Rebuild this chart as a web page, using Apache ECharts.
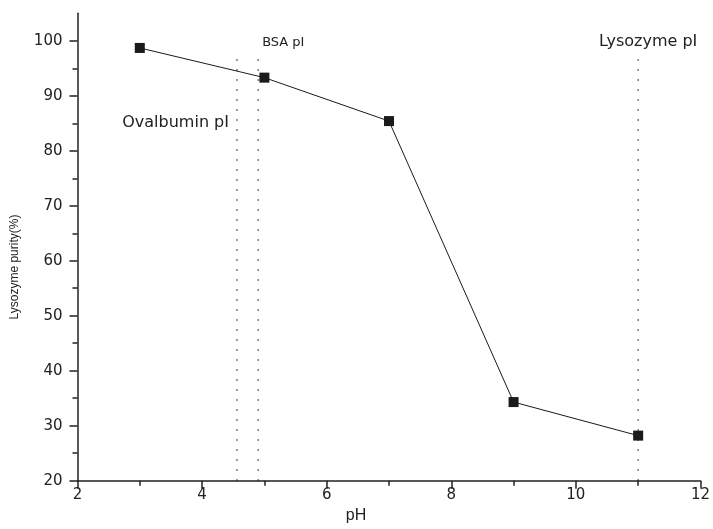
<!DOCTYPE html>
<html>
<head>
<meta charset="utf-8">
<script src="https://cdn.jsdelivr.net/npm/echarts@6/dist/echarts.min.js"></script>
<style>
html,body{margin:0;padding:0;background:#fff;}
#chart{width:713px;height:529px;}
</style>
</head>
<body>
<div id="chart"></div>
<script>
// Data
const phValues = [3, 5, 7, 9, 11];
const purityValues = [98.7, 93.3, 85.4, 34.3, 28.2];
const piNames = ['Ovalbumin pI', 'BSA pI', 'Lysozyme pI'];
const piValues = [4.56, 4.9, 11];
const piLineTop = 97.7;
const xMajorTicks = [2, 4, 6, 8, 10, 12];
const xMinorTicks = [3, 5, 7, 9, 11];
const yMajorTicks = [20, 30, 40, 50, 60, 70, 80, 90, 100];
const yMinorTicks = [25, 35, 45, 55, 65, 75, 85, 95];

const FONT = '"DejaVu Sans", sans-serif';
const AX = '#222';
const chart = echarts.init(document.getElementById('chart'), null, {renderer: 'canvas'});

const piSeries = piValues.map((v, i) => ({
  name: piNames[i],
  type: 'line',
  data: [[v, 20], [v, piLineTop]],
  symbol: 'none',
  silent: true,
  lineStyle: {color: '#222', width: 1.2, type: [1.5, 8.5]},
  z: 1
}));

chart.setOption({
  animation: false,
  grid: {left: 77.5, right: 10.5, top: 13.3, bottom: 48.3, containLabel: false},
  xAxis: [{
    type: 'value', min: 2, max: 12, interval: 2,
    position: 'bottom',
    name: 'pH', nameLocation: 'middle', nameGap: 26,
    nameTextStyle: {fontFamily: 'Liberation Sans, Arial, sans-serif', fontSize: 16, color: AX, padding: [0, 66, 0, 0]},
    axisLine: {lineStyle: {color: AX, width: 1.5}},
    axisTick: {inside: false, length: 8, customValues: xMajorTicks, lineStyle: {color: AX, width: 1.5}},
    axisLabel: {fontFamily: FONT, fontSize: 15, color: AX, margin: 7, customValues: xMajorTicks},
    splitLine: {show: false}
  }, {
    type: 'value', min: 2, max: 12, interval: 1,
    position: 'bottom', offset: 0,
    axisLine: {show: false},
    axisTick: {show: true, inside: false, length: 5, customValues: xMinorTicks, lineStyle: {color: AX, width: 1.5}},
    axisLabel: {show: false},
    splitLine: {show: false}
  }],
  yAxis: [{
    type: 'value', min: 20, max: 105, interval: 5,
    position: 'left',
    name: 'Lysozyme purity(%)', nameLocation: 'middle', nameGap: 57,
    nameTextStyle: {fontFamily: 'Liberation Sans, Arial, sans-serif', fontSize: 12, color: AX, padding: [0, 40, 0, 0]},
    axisLine: {show: true, lineStyle: {color: AX, width: 1.5}},
    axisTick: {show: true, inside: false, length: 8, customValues: yMajorTicks, lineStyle: {color: AX, width: 1.5}},
    axisLabel: {fontFamily: FONT, fontSize: 15, color: AX, margin: 15, customValues: yMajorTicks},
    splitLine: {show: false}
  }, {
    type: 'value', min: 20, max: 105, interval: 5,
    position: 'left', offset: 0,
    axisLine: {show: false},
    axisTick: {show: true, inside: false, length: 5, customValues: yMinorTicks, lineStyle: {color: AX, width: 1.5}},
    axisLabel: {show: false},
    splitLine: {show: false}
  }],
  series: piSeries.concat([{
    name: 'Lysozyme purity',
    type: 'line',
    data: phValues.map((x, i) => [x, purityValues[i]]),
    symbol: 'rect', symbolSize: 10,
    itemStyle: {color: '#1a1a1a'},
    lineStyle: {color: '#1a1a1a', width: 1},
    z: 3
  }])
});

// Annotations anchored to the pI lines through the axis scales
const ov = chart.convertToPixel({xAxisIndex: 0, yAxisIndex: 0}, [piValues[0], 85]);
const bsa = chart.convertToPixel({xAxisIndex: 0, yAxisIndex: 0}, [piValues[1], 99.7]);
const lys = chart.convertToPixel({xAxisIndex: 0, yAxisIndex: 0}, [piValues[2], 99.9]);
chart.setOption({
  graphic: [
    {type: 'text', x: ov[0] - 8, y: ov[1], style: {text: piNames[0], font: '16px ' + FONT, fill: AX, textAlign: 'right', textVerticalAlign: 'middle'}},
    {type: 'text', x: bsa[0] + 4, y: bsa[1], style: {text: piNames[1], font: '13px ' + FONT, fill: AX, textAlign: 'left', textVerticalAlign: 'middle'}},
    {type: 'text', x: lys[0] + 10, y: lys[1], style: {text: piNames[2], font: '16px ' + FONT, fill: AX, textAlign: 'center', textVerticalAlign: 'middle'}}
  ]
});
</script>
</body>
</html>
